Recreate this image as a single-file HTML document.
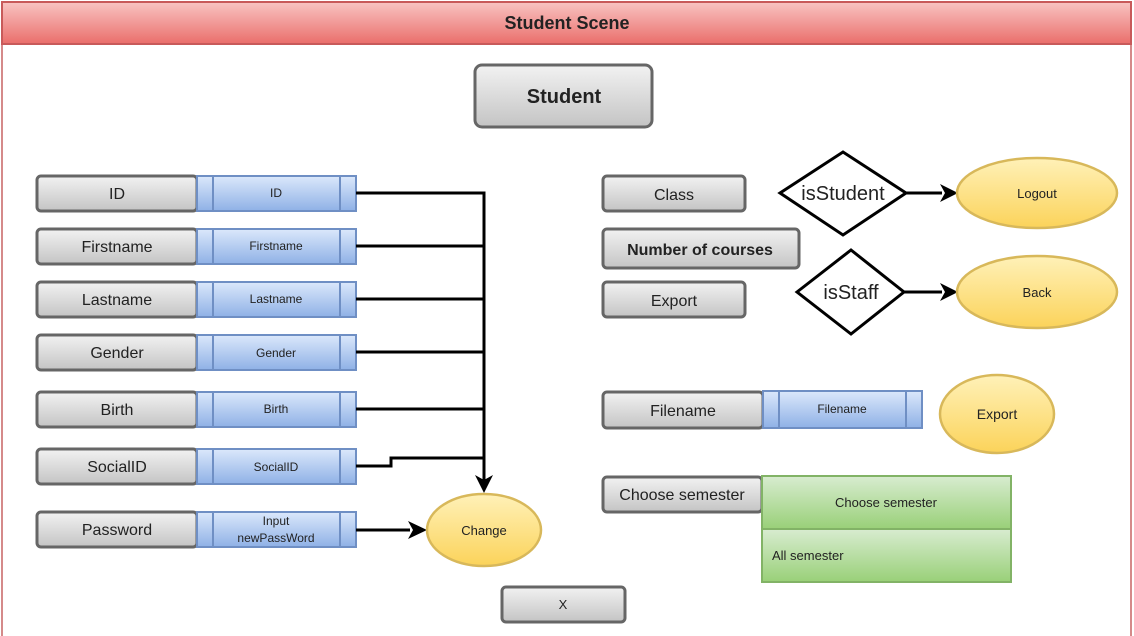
<!DOCTYPE html>
<html><head><meta charset="utf-8"><style>
html,body{margin:0;padding:0;background:#fff;}
svg{display:block;font-family:"Liberation Sans",sans-serif;}
</style></head><body>
<svg width="1134" height="636" viewBox="0 0 1134 636" xmlns="http://www.w3.org/2000/svg">
<defs>
<linearGradient id="red" x1="0" y1="0" x2="0" y2="1"><stop offset="0" stop-color="#f8c4c2"/><stop offset="1" stop-color="#ea6e6b"/></linearGradient>
<linearGradient id="gray" x1="0" y1="0" x2="0" y2="1"><stop offset="0" stop-color="#f2f2f2"/><stop offset="1" stop-color="#c4c4c4"/></linearGradient>
<linearGradient id="blue" x1="0" y1="0" x2="0" y2="1"><stop offset="0" stop-color="#dbe8fb"/><stop offset="1" stop-color="#8fb1e6"/></linearGradient>
<linearGradient id="yel" x1="0" y1="0" x2="0" y2="1"><stop offset="0" stop-color="#fff1b8"/><stop offset="1" stop-color="#fbd35a"/></linearGradient>
<linearGradient id="grn" x1="0" y1="0" x2="0" y2="1"><stop offset="0" stop-color="#d8ecd0"/><stop offset="1" stop-color="#99d078"/></linearGradient>
</defs>
<!-- frame -->
<rect x="2" y="2" width="1129" height="640" fill="#fff" stroke="#d58a8a" stroke-width="2"/>
<rect x="2" y="2" width="1129" height="42" fill="url(#red)" stroke="#c85a5a" stroke-width="2"/>
<text x="567" y="29" font-size="18" font-weight="bold" text-anchor="middle" fill="#222">Student Scene</text>

<g stroke="#666" stroke-width="3" fill="url(#gray)">
<rect x="475" y="65" width="177" height="62" rx="7"/>
</g>
<text x="564" y="103" font-size="20" font-weight="bold" text-anchor="middle" fill="#222">Student</text>

<!-- left rows -->
<g font-size="16" text-anchor="middle" fill="#222">
<g id="rows">
</g>
</g>
<g stroke="#666" stroke-width="3" fill="url(#gray)">
<rect x="37" y="176" width="160" height="35" rx="4"/>
<rect x="37" y="229" width="160" height="35" rx="4"/>
<rect x="37" y="282" width="160" height="35" rx="4"/>
<rect x="37" y="335" width="160" height="35" rx="4"/>
<rect x="37" y="392" width="160" height="35" rx="4"/>
<rect x="37" y="449" width="160" height="35" rx="4"/>
<rect x="37" y="512" width="160" height="35" rx="4"/>
<rect x="603" y="176" width="142" height="35" rx="4"/>
<rect x="603" y="229" width="196" height="39" rx="4"/>
<rect x="603" y="282" width="142" height="35" rx="4"/>
<rect x="603" y="392" width="160" height="36" rx="4"/>
<rect x="603" y="477" width="159" height="35" rx="4"/>
<rect x="502" y="587" width="123" height="35" rx="4"/>
</g>
<g stroke="#6f8fc4" stroke-width="2" fill="url(#blue)">
<rect x="197" y="176" width="159" height="35"/>
<rect x="197" y="229" width="159" height="35"/>
<rect x="197" y="282" width="159" height="35"/>
<rect x="197" y="335" width="159" height="35"/>
<rect x="197" y="392" width="159" height="35"/>
<rect x="197" y="449" width="159" height="35"/>
<rect x="197" y="512" width="159" height="35"/>
<rect x="763" y="391" width="159" height="37"/>
</g>
<g stroke="#6f8fc4" stroke-width="2">
<path d="M213 176V211M340 176V211M213 229V264M340 229V264M213 282V317M340 282V317M213 335V370M340 335V370M213 392V427M340 392V427M213 449V484M340 449V484M213 512V547M340 512V547M779 391V428M906 391V428"/>
</g>
<g font-size="16" text-anchor="middle" fill="#222">
<text x="117" y="199">ID</text>
<text x="117" y="252">Firstname</text>
<text x="117" y="305">Lastname</text>
<text x="117" y="358">Gender</text>
<text x="117" y="415">Birth</text>
<text x="117" y="472">SocialID</text>
<text x="117" y="535">Password</text>
<text x="674" y="200">Class</text>
<text x="700" y="255" font-weight="bold" font-size="16">Number of courses</text>
<text x="674" y="306">Export</text>
<text x="683" y="416">Filename</text>
<text x="682" y="500">Choose semester</text>
<text x="563" y="609" font-size="13">X</text>
</g>
<g font-size="12" text-anchor="middle" fill="#222">
<text x="276" y="197">ID</text>
<text x="276" y="250">Firstname</text>
<text x="276" y="303">Lastname</text>
<text x="276" y="357">Gender</text>
<text x="276" y="413">Birth</text>
<text x="276" y="471">SocialID</text>
<text x="276" y="525">Input</text>
<text x="276" y="542">newPassWord</text>
<text x="842" y="413">Filename</text>
</g>

<!-- connectors -->
<g stroke="#000" stroke-width="3" fill="none">
<path d="M356 193H484V482"/>
<path d="M356 246H484M356 299H484M356 352H484M356 409H484"/>
<path d="M356 466H391V458H484"/>
<path d="M356 530H410"/>
<path d="M906 193H942M904 292H942"/>
</g>
<g fill="#000">
<polygon points="475,475 484,493 493,475 484,480"/>
<polygon points="408,521 427,530 408,539 413,530"/>
<polygon points="940,184 958,193 940,202 945,193"/>
<polygon points="940,283 958,292 940,301 945,292"/>
</g>

<!-- diamonds -->
<polygon points="780,193 843,152 906,193 843,235" fill="#fff" stroke="#000" stroke-width="3"/>
<text x="843" y="200" font-size="20" text-anchor="middle" fill="#222">isStudent</text>
<polygon points="797,292 851,250 904,292 851,334" fill="#fff" stroke="#000" stroke-width="3"/>
<text x="851" y="299" font-size="20" text-anchor="middle" fill="#222">isStaff</text>

<!-- ellipses -->
<g stroke="#d8b85a" stroke-width="2.5" fill="url(#yel)">
<ellipse cx="484" cy="530" rx="57" ry="36"/>
<ellipse cx="1037" cy="193" rx="80" ry="35"/>
<ellipse cx="1037" cy="292" rx="80" ry="36"/>
<ellipse cx="997" cy="414" rx="57" ry="39"/>
</g>
<g font-size="13" text-anchor="middle" fill="#222">
<text x="484" y="535">Change</text>
<text x="1037" y="198">Logout</text>
<text x="1037" y="297">Back</text>
<text x="997" y="419" font-size="14">Export</text>
</g>

<!-- green list -->
<g stroke="#82b366" stroke-width="2" fill="url(#grn)">
<rect x="762" y="476" width="249" height="53"/>
<rect x="762" y="529" width="249" height="53"/>
</g>
<text x="886" y="507" font-size="13" text-anchor="middle" fill="#222">Choose semester</text>
<text x="772" y="560" font-size="13" fill="#222">All semester</text>
</svg>
</body></html>
